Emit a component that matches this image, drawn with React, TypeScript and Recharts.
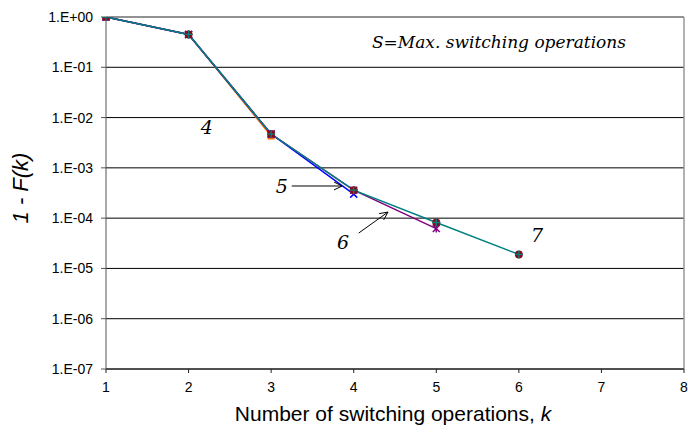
import React from 'react';
import {
  LineChart, Line, XAxis, YAxis, CartesianGrid, ReferenceLine, ReferenceDot, Label,
} from 'recharts';

const kValues = [1, 2, 3, 4, 5, 6];
const s4 = [1, 0.45, 4.3e-3];
const s5 = [1, 0.45, 4.7e-3, 3.0e-4];
const s6 = [1, 0.45, 4.7e-3, 3.6e-4, 6.2e-5];
const s7 = [1, 0.45, 4.7e-3, 3.6e-4, 8.2e-5, 1.9e-5];
const xTicks = [1, 2, 3, 4, 5, 6, 7, 8];
const yTicks = [1e-7, 1e-6, 1e-5, 1e-4, 1e-3, 1e-2, 1e-1, 1];

const rows = kValues.map((k, i) => ({ k, s4: s4[i], s5: s5[i], s6: s6[i], s7: s7[i] }));

const fmt = (v: number) => {
  const e = Math.round(Math.log10(v));
  return `1.E${e < 0 ? '-' : '+'}${String(Math.abs(e)).padStart(2, '0')}`;
};

const SERIF = "'DejaVu Serif', 'Liberation Serif', serif";
const SANS = "'Liberation Sans', Arial, sans-serif";

const empty = (p: any) => <g key={p.key ?? `e${p.index}`} />;

const squareDot = (p: any) => {
  if (p.value == null || p.cy == null) return empty(p);
  return <rect key={`s4-${p.index}`} x={p.cx - 3.5} y={p.cy - 3.5} width={7} height={7} fill="#FF6A00" />;
};
const xDot = (p: any) => {
  if (p.value == null || p.cy == null) return empty(p);
  const { cx, cy } = p;
  return (
    <path key={`s5-${p.index}`} d={`M${cx - 3.5},${cy - 3.5}L${cx + 3.5},${cy + 3.5}M${cx - 3.5},${cy + 3.5}L${cx + 3.5},${cy - 3.5}`} stroke="#0000FF" strokeWidth={1.5} />
  );
};
const starDot = (p: any) => {
  if (p.value == null || p.cy == null) return empty(p);
  const { cx, cy } = p;
  return (
    <path key={`s6-${p.index}`} d={`M${cx - 3.5},${cy - 3.5}L${cx + 3.5},${cy + 3.5}M${cx - 3.5},${cy + 3.5}L${cx + 3.5},${cy - 3.5}M${cx},${cy - 4}L${cx},${cy + 4}`} stroke="#800080" strokeWidth={1.5} />
  );
};
const circleDot = (p: any) => {
  if (p.value == null || p.cy == null) return empty(p);
  const { cx, cy } = p;
  return (
    <g key={`s7-${p.index}`}>
      <circle cx={cx} cy={cy} r={4} fill="#8B0A1A" />
      <path d={`M${cx - 4},${cy}L${cx + 4},${cy}M${cx},${cy - 4}L${cx},${cy + 4}`} stroke="#008080" strokeWidth={1.3} />
    </g>
  );
};

const textShape = (txt: string, size: number, anchor: 'start' | 'middle' = 'middle') => (p: any) => (
  <text x={p.cx} y={p.cy} dy="0.35em" textAnchor={anchor} fontFamily={SERIF} fontStyle="italic" fontSize={size} fill="#000">
    {txt}
  </text>
);

const arrowShape = (p: any) => {
  const { x1, y1, x2, y2 } = p;
  if ([x1, y1, x2, y2].some((v) => v == null || isNaN(v))) return <g />;
  const ang = Math.atan2(y2 - y1, x2 - x1);
  const L = 9, W = 0.45;
  const ax = x2 - L * Math.cos(ang - W), ay = y2 - L * Math.sin(ang - W);
  const bx = x2 - L * Math.cos(ang + W), by = y2 - L * Math.sin(ang + W);
  return (
    <g>
      <line x1={x1} y1={y1} x2={x2} y2={y2} stroke="#000" strokeWidth={1} />
      <path d={`M${ax},${ay}L${x2},${y2}L${bx},${by}`} fill="none" stroke="#000" strokeWidth={1} />
    </g>
  );
};

const XTitle = () => (
  <text x={393} y={414} dy="0.35em" textAnchor="middle" fontFamily={SANS} fontSize={21} fill="#000">
    Number of switching operations, <tspan fontStyle="italic">k</tspan>
  </text>
);
const YTitle = () => (
  <text x={20} y={188} dy="0.35em" textAnchor="middle" fontFamily={SANS} fontSize={22} fontStyle="italic" fill="#000" transform="rotate(-90, 20, 188)">
    1 - F(k)
  </text>
);

export default function App() {
  return (
    <div style={{ position: 'absolute', left: 0, top: 0, width: 688, height: 436, background: '#fff' }}>
      <LineChart width={688} height={436} data={rows} margin={{ top: 17, right: 4, bottom: 0, left: 0 }}>
        <CartesianGrid vertical={false} stroke="#000" strokeWidth={1} />
        <XAxis
          dataKey="k" type="number" domain={[1, 8]} ticks={xTicks} interval={0} height={67}
          tickSize={4} tickMargin={9} stroke="#222" tick={{ fill: '#000', fontSize: 14, fontFamily: SANS }}
        >
          <Label content={XTitle} />
        </XAxis>
        <YAxis
          scale="log" type="number" domain={[1e-7, 1]} ticks={yTicks} interval={0} allowDataOverflow width={106}
          tickFormatter={fmt} tickSize={5} tickMargin={8} stroke="#555" tick={{ fill: '#000', fontSize: 14, fontFamily: SANS }}
        >
          <Label content={YTitle} />
        </YAxis>
        <ReferenceLine y={1} stroke="#999" strokeWidth={1.5} />
        <ReferenceLine x={8} stroke="#999" strokeWidth={1.5} />
        <Line dataKey="s4" stroke="#FF6A00" strokeWidth={1.5} dot={squareDot} activeDot={false} isAnimationActive={false} />
        <Line dataKey="s5" stroke="#0000FF" strokeWidth={1.5} dot={xDot} activeDot={false} isAnimationActive={false} />
        <Line dataKey="s6" stroke="#800080" strokeWidth={1.5} dot={starDot} activeDot={false} isAnimationActive={false} />
        <Line dataKey="s7" stroke="#008080" strokeWidth={1.5} dot={circleDot} activeDot={false} isAnimationActive={false} />
        <ReferenceLine segment={[{ x: 3.25, y: 4.36e-4 }, { x: 3.86, y: 4.36e-4 }]} shape={arrowShape} />
        <ReferenceLine segment={[{ x: 4.06, y: 5.05e-5 }, { x: 4.415, y: 1.32e-4 }]} shape={arrowShape} />
        <ReferenceDot x={4.22} y={0.32} r={0} shape={textShape('S=Max. switching operations', 17, 'start')} />
        <ReferenceDot x={2.22} y={6.5e-3} r={0} shape={textShape('4', 19)} />
        <ReferenceDot x={3.13} y={4.36e-4} r={0} shape={textShape('5', 19)} />
        <ReferenceDot x={3.87} y={3.34e-5} r={0} shape={textShape('6', 19)} />
        <ReferenceDot x={6.22} y={4.6e-5} r={0} shape={textShape('7', 19)} />
      </LineChart>
    </div>
  );
}
